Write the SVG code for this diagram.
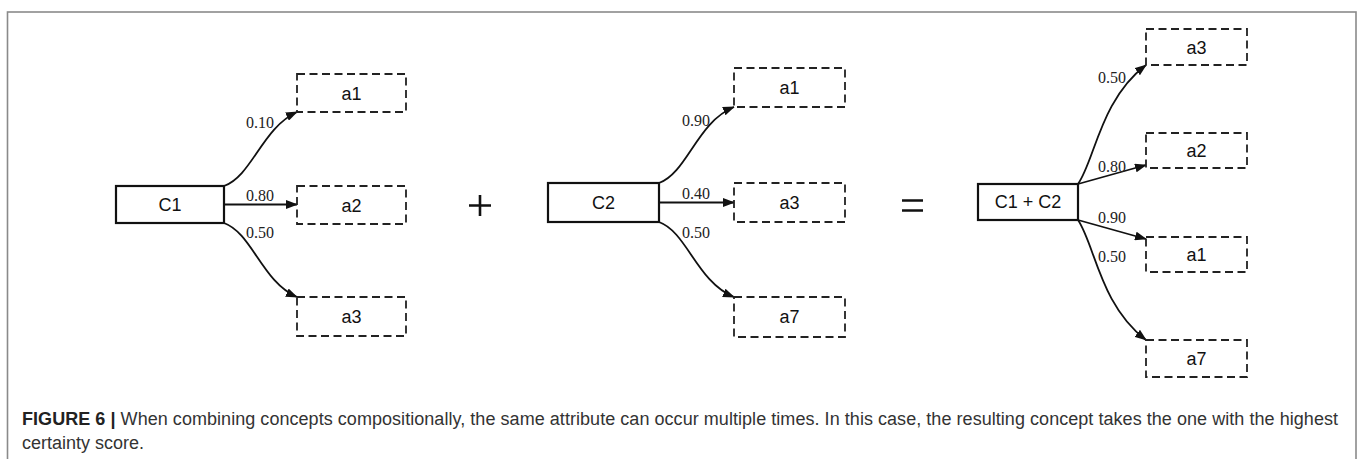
<svg xmlns="http://www.w3.org/2000/svg" width="1360" height="459" viewBox="0 0 1360 459">
<style>
.frame{fill:none;stroke:#8a8a8a;stroke-width:1.6}
.main{fill:#fff;stroke:#111;stroke-width:2.2}
.attr{fill:#fff;stroke:#222;stroke-width:1.8;stroke-dasharray:8 4.5}
.nl{font-family:"Liberation Sans",Arial,sans-serif;font-size:18px;fill:#111;text-anchor:middle}
.el{font-family:"Liberation Serif","Times New Roman",serif;font-size:16px;fill:#222}
.edge{fill:none;stroke:#111;stroke-width:1.8;marker-end:url(#arr)}
.op{stroke:#111;stroke-width:2.6;fill:none}
.cap{font-family:"Liberation Sans",Arial,sans-serif;font-size:18px;fill:#333}
</style>
<defs>
<marker id="arr" viewBox="0 0 12 9" refX="11" refY="4.5" markerWidth="12" markerHeight="9" markerUnits="userSpaceOnUse" orient="auto">
<path d="M0,0 L12,4.5 L0,9 z" fill="#111"/>
</marker>
</defs>
<rect x="0" y="0" width="1360" height="459" fill="#fff"/>
<rect class="frame" x="7.5" y="12" width="1348.5" height="460"/>

<g id="connectors">
<path class="edge" d="M224,186 C252,176 262,128 297,112"/>
<path class="edge" d="M224,204.5 L297,204.5"/>
<path class="edge" d="M224,223 C252,233 262,282 297,297"/>
<path class="edge" d="M659,183 C687,173 697,122 734,107"/>
<path class="edge" d="M659,202.5 L734,202.5"/>
<path class="edge" d="M659,222 C687,232 697,282 734,297"/>
<path class="edge" d="M1078,184 C1095,160 1100,100 1146,65"/>
<path class="edge" d="M1078,184 L1146,165"/>
<path class="edge" d="M1078,220 L1146,239"/>
<path class="edge" d="M1078,220 C1095,245 1100,305 1146,340"/>
<text class="el" x="246" y="128">0.10</text>
<text class="el" x="246" y="200.5">0.80</text>
<text class="el" x="246" y="238">0.50</text>
<text class="el" x="682" y="126">0.90</text>
<text class="el" x="682" y="199">0.40</text>
<text class="el" x="682" y="238">0.50</text>
<text class="el" x="1098" y="83">0.50</text>
<text class="el" x="1098" y="172">0.80</text>
<text class="el" x="1098" y="223">0.90</text>
<text class="el" x="1098" y="262">0.50</text>
</g>

<g id="C1"><rect class="main" x="116" y="186" width="108" height="37"/><text class="nl" x="170" y="211">C1</text></g>
<g id="g1a1"><rect class="attr" x="297" y="74" width="109" height="38"/><text class="nl" x="351.5" y="99.5">a1</text></g>
<g id="g1a2"><rect class="attr" x="297" y="186" width="109" height="38"/><text class="nl" x="351.5" y="211.5">a2</text></g>
<g id="g1a3"><rect class="attr" x="297" y="297" width="109" height="39"/><text class="nl" x="351.5" y="323">a3</text></g>

<g id="plus"><path class="op" d="M469,205.5 H491 M480,195 V216"/></g>

<g id="C2"><rect class="main" x="548" y="183" width="111" height="39"/><text class="nl" x="603.5" y="209">C2</text></g>
<g id="g2a1"><rect class="attr" x="734" y="68" width="111" height="39"/><text class="nl" x="789.5" y="94">a1</text></g>
<g id="g2a3"><rect class="attr" x="734" y="183" width="111" height="39"/><text class="nl" x="789.5" y="209">a3</text></g>
<g id="g2a7"><rect class="attr" x="734" y="297" width="111" height="40"/><text class="nl" x="789.5" y="323">a7</text></g>

<g id="equals"><path class="op" d="M902,200.5 H923 M902,210.5 H923"/></g>

<g id="C1C2"><rect class="main" x="978" y="184" width="100" height="36"/><text class="nl" x="1028" y="208">C1 + C2</text></g>
<g id="g3a3"><rect class="attr" x="1146" y="29" width="101" height="36"/><text class="nl" x="1196.5" y="53.5">a3</text></g>
<g id="g3a2"><rect class="attr" x="1146" y="133" width="101" height="35"/><text class="nl" x="1196.5" y="157">a2</text></g>
<g id="g3a1"><rect class="attr" x="1146" y="237" width="101" height="35"/><text class="nl" x="1196.5" y="261">a1</text></g>
<g id="g3a7"><rect class="attr" x="1146" y="340" width="101" height="37"/><text class="nl" x="1196.5" y="365">a7</text></g>

<text class="cap" x="22" y="425" textLength="1316" lengthAdjust="spacing"><tspan font-weight="bold" fill="#222">FIGURE 6 |</tspan> When combining concepts compositionally, the same attribute can occur multiple times. In this case, the resulting concept takes the one with the highest</text>
<text class="cap" x="22" y="449">certainty score.</text>
</svg>
